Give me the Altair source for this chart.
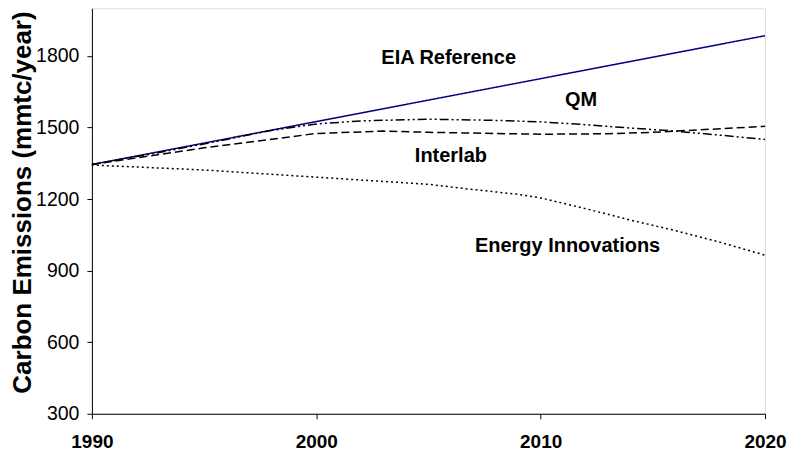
import altair as alt
import pandas as pd

# Series values (year, mmtc/year)
eia_years = [1990, 2000, 2010, 2020]
eia_vals = [1345, 1525, 1705, 1885]

qm_years = [1990, 1993, 1996, 1998, 2000, 2002, 2005, 2008, 2010, 2012, 2014, 2016, 2018, 2020]
qm_vals = [1345, 1395, 1450, 1488, 1515, 1528, 1535, 1530, 1524, 1512, 1498, 1485, 1468, 1450]

interlab_years = [1990, 1995, 2000, 2003, 2005, 2008, 2010, 2013, 2015, 2018, 2020]
interlab_vals = [1345, 1415, 1475, 1485, 1480, 1475, 1472, 1474, 1480, 1495, 1505]

ei_years = [1990, 1995, 2000, 2005, 2007, 2009, 2010, 2012, 2014, 2016, 2018, 2020]
ei_vals = [1343, 1322, 1292, 1262, 1240, 1220, 1205, 1160, 1112, 1068, 1019, 965]

series_names = ["EIA Reference", "QM", "Interlab", "Energy Innovations"]
series_colors = ["#000080", "#000000", "#000000", "#000000"]
series_dash = [[1, 0], [9, 3, 2, 3, 2, 3], [8, 4], [2, 3]]

label_text = ["EIA Reference", "QM", "Interlab", "Energy Innovations"]
label_x = [2005.9, 2011.8, 2006.0, 2011.2]
label_y = [1792, 1617, 1380, 1005]

y_ticks = [300, 600, 900, 1200, 1500, 1800]
x_ticks = [1990, 2000, 2010, 2020]

rows = []
for name, yrs, vals in [
    ("EIA Reference", eia_years, eia_vals),
    ("QM", qm_years, qm_vals),
    ("Interlab", interlab_years, interlab_vals),
    ("Energy Innovations", ei_years, ei_vals),
]:
    for yr, v in zip(yrs, vals):
        rows.append({"series": name, "year": yr, "value": v})
df = pd.DataFrame(rows)
labels = pd.DataFrame({"text": label_text, "year": label_x, "value": label_y})

x_enc = alt.X(
    "year:Q",
    scale=alt.Scale(domain=[1990, 2020], nice=False, zero=False),
    axis=alt.Axis(
        values=x_ticks, format="d", title=None, grid=False,
        labelFont="Liberation Sans", labelFontSize=19, labelFontWeight="bold",
        labelColor="#000000", labelPadding=14, tickSize=5, tickColor="#000000",
        domainColor="#000000", labelFlush=False,
    ),
)
y_enc = alt.Y(
    "value:Q",
    scale=alt.Scale(domain=[300, 2000], nice=False, zero=False),
    axis=alt.Axis(
        values=y_ticks, format="d", title="Carbon Emissions (mmtc/year)", grid=False,
        labelFont="Liberation Sans", labelFontSize=19.5, labelColor="#000000",
        labelPadding=8, tickSize=5, tickColor="#000000", domainColor="#000000",
        titleFont="Liberation Sans", titleFontSize=26, titleFontWeight="bold",
        titleColor="#000000", titlePadding=0, titleY=194,
    ),
)

lines = alt.Chart(df).mark_line(strokeWidth=1.5).encode(
    x=x_enc,
    y=y_enc,
    color=alt.Color("series:N", scale=alt.Scale(domain=series_names, range=series_colors), legend=None),
    strokeDash=alt.StrokeDash("series:N", scale=alt.Scale(domain=series_names, range=series_dash), legend=None),
    detail="series:N",
)

texts = alt.Chart(labels).mark_text(
    font="Liberation Sans", fontSize=20, fontWeight="bold", color="#000000",
    align="center", baseline="middle",
).encode(
    x=alt.X("year:Q"),
    y=alt.Y("value:Q"),
    text="text:N",
)

chart = alt.layer(lines, texts).properties(
    width=674, height=406,
    padding={"left": 1, "top": 0, "right": 0, "bottom": 0},
).configure_view(
    stroke="#b4b4b4", strokeWidth=1.5,
).configure(background="#ffffff")

chart.save("out.html", embed_options={"renderer": "svg", "actions": False})
